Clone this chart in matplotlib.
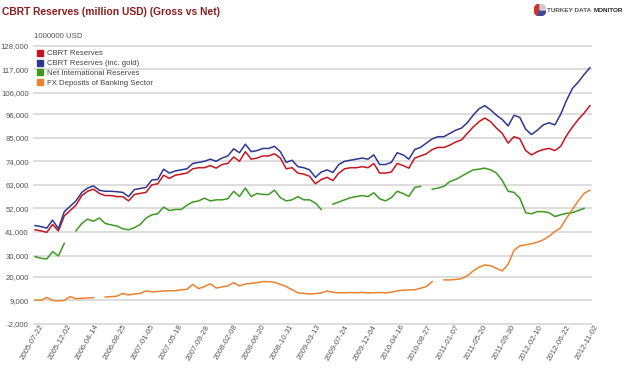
import matplotlib.pyplot as plt
import matplotlib.transforms as mtransforms
from matplotlib.lines import Line2D
from matplotlib.patches import Wedge
import numpy as np
import pandas as pd

plt.rcParams["font.family"] = ["Liberation Sans", "DejaVu Sans"]

# weekly data thinned to one value every 4 weeks, 2005-07-22 .. 2012-11-02
dates = pd.date_range("2005-07-22", periods=96, freq="28D")

cbrt = [42000, 41500, 40800, 44500, 41500, 48500, 51000, 53500, 58000, 60000,
        61000, 59000, 58000, 58000, 57500, 57500, 55500, 58500, 59000, 59500,
        63000, 63500, 67500, 66000, 67500, 68000, 68500, 70500, 71000, 71000,
        72000, 70800, 72500, 73000, 76000, 74000, 78500, 75000, 75500, 76500,
        76500, 77500, 75500, 70500, 71000, 68500, 68000, 67000, 63500, 65500,
        66500, 65000, 68500, 70500, 71000, 71000, 71500, 71000, 73000, 68500,
        68500, 69000, 73000, 72000, 70800, 75500, 76500, 77500, 79500, 80500,
        80500, 81500, 83000, 84000, 87000, 90000, 92500, 94200, 92500, 89500,
        87000, 82500, 85500, 84500, 79000, 77000, 78500, 79500, 80000, 79000,
        81000, 86000, 90000, 93500, 96500, 100000]

cbrt_gold = [44000, 43500, 42800, 46500, 42500, 50500, 53000, 55500, 59500, 61500,
             62500, 60500, 60000, 60000, 59800, 59500, 57500, 60800, 61300, 61800,
             65300, 65500, 70300, 68500, 69500, 70000, 70500, 73000, 73500, 74000,
             75000, 74000, 75500, 76500, 79800, 78000, 82000, 78500, 79000, 80000,
             80000, 81000, 78500, 73500, 74500, 71500, 71000, 70000, 66500, 69000,
             70000, 68800, 72500, 74000, 74500, 75000, 75500, 75000, 77000, 72500,
             72500, 73500, 78000, 77000, 75000, 79500, 80500, 82500, 84500, 85500,
             85500, 87000, 88500, 89500, 92000, 95500, 98500, 100000, 98000, 95500,
             93500, 90500, 95500, 94500, 89000, 86500, 88500, 91000, 92000, 91000,
             96000, 102500, 108000, 111000, 114500, 117700]

net_reserves = [29500, 28700, 28400, 31800, 29800, 35700, np.nan, 41500, 45000, 47000,
                46000, 47500, 45000, 44300, 43800, 42500, 42000, 43000, 44500, 47500,
                49000, 49500, 52600, 51000, 51500, 51500, 53500, 55000, 55500, 56800,
                55500, 56000, 56000, 56500, 60000, 57600, 61500, 57500, 59000, 58500,
                58500, 60500, 57000, 55500, 56000, 57500, 56000, 56000, 54500, 51500,
                np.nan, 54000, 55000, 56000, 57000, 57500, 58000, 57500, 59300, 56500,
                55500, 57000, 60000, 59000, 57600, 61800, 62300, np.nan, 61000, 61500,
                62300, 64500, 65500, 67000, 68500, 70000, 70300, 70800, 70000, 68500,
                65000, 60000, 59500, 56800, 50000, 49500, 50500, 50500, 50000, 48200,
                49000, 49700, 50000, 51000, 52000, np.nan]

fx_deposits = [9200, 9100, 10400, 9000, 8800, 9000, 10800, 9800, 10000, 10200,
               10300, np.nan, 10600, 10800, 11000, 12300, 11600, 12000, 12300, 13500,
               13000, 13200, 13400, 13600, 13500, 14000, 14200, 16500, 14500, 15500,
               16800, 14800, 15300, 15800, 17300, 15800, 16700, 17000, 17300, 17800,
               17800, 17500, 16500, 15500, 14000, 12600, 12300, 12000, 12200, 12500,
               13400, 12800, 12600, 12600, 12700, 12600, 12800, 12500, 12600, 12700,
               12600, 12800, 13500, 13800, 13900, 14000, 14700, 15500, 17800, np.nan,
               18600, 18600, 18800, 19200, 20500, 22800, 24500, 25600, 25200, 24000,
               22800, 25900, 32500, 34500, 35000, 35500, 36200, 37300, 39000, 41200,
               43000, 47500, 51500, 55500, 59000, 60500]

series_names = ["CBRT Reserves", "CBRT Reserves (inc. gold)",
                "Net International Reserves", "FX Deposits of Banking Sector"]
series_colors = ["#c8141e", "#2e3790", "#3c9a22", "#ea8230"]

y_ticks = [-2000, 9000, 20000, 30000, 41000, 52000, 63000, 74000,
           85000, 96000, 106000, 117000, 128000]
x_tick_labels = ["2005-07-22", "2005-12-02", "2006-04-14", "2006-08-25", "2007-01-05",
                 "2007-05-18", "2007-09-28", "2008-02-08", "2008-06-20", "2008-10-31",
                 "2009-03-13", "2009-07-24", "2009-12-04", "2010-04-16", "2010-08-27",
                 "2011-01-07", "2011-05-20", "2011-09-30", "2012-02-10", "2012-06-22",
                 "2012-11-02"]

W, H = 631, 369
fig = plt.figure(figsize=(W / 100, H / 100), dpi=100)
ax = fig.add_axes([33 / W, 1 - 325.3 / H, 559 / W, 280.9 / H])

for vals, name, col in zip([cbrt, cbrt_gold, net_reserves, fx_deposits],
                           series_names, series_colors):
    ax.plot(dates, vals, color=col, lw=1.1, label=name)

ax.set_ylim(-2600, 128600)
ax.set_xlim(dates[0] - pd.Timedelta(days=10), dates[-1] + pd.Timedelta(days=10))

ax.set_yticks(y_ticks)
ax.set_yticklabels([f"{v:,}" for v in y_ticks])
ax.set_xticks(pd.to_datetime(x_tick_labels))
ax.set_xticklabels(x_tick_labels)

ax.grid(axis="y", color="#dadada", lw=1.3)
ax.set_axisbelow(True)
for s in ax.spines.values():
    s.set_visible(False)
ax.tick_params(length=0, labelsize=5.6, labelcolor="#555555")
ax.tick_params(axis="y", pad=3)
ax.tick_params(axis="x", pad=0)

shift = mtransforms.ScaledTranslation(0.07, 0.0, fig.dpi_scale_trans)
for lab in ax.get_xticklabels():
    lab.set_rotation(60)
    lab.set_ha("right")
    lab.set_va("center")
    lab.set_rotation_mode("anchor")
    lab.set_transform(lab.get_transform() + shift)

handles = [Line2D([], [], marker="s", ls="none", color=c, markersize=4.6) for c in series_colors]
ax.legend(handles, series_names, loc="upper left", bbox_to_anchor=(37 / W, 1 - 50 / H),
          bbox_transform=fig.transFigure, frameon=False, fontsize=5.6,
          handlelength=0.7, handletextpad=0.6, labelspacing=0.3, borderpad=0,
          borderaxespad=0, labelcolor="#444444")

fig.text(34 / W, 1 - 37 / H, "1000000 USD", fontsize=5.6, color="#555555", va="center")
fig.text(2 / W, 1 - 12 / H, "CBRT Reserves (million USD) (Gross vs Net)",
         fontsize=7.4, fontweight="bold", color="#8b1c1c", va="center")

# logo
lax = fig.add_axes([534 / W, 1 - 16 / H, 12 / W, 12 / H])
lax.set_xlim(0, 1)
lax.set_ylim(0, 1)
lax.axis("off")
lax.add_patch(Wedge((0.5, 0.5), 0.5, 90, 250, color="#d2322d"))
lax.add_patch(Wedge((0.5, 0.5), 0.5, 250, 360, color="#3a4a9c"))
lax.add_patch(Wedge((0.5, 0.5), 0.5, 0, 90, color="#c9ccd6"))
t1 = fig.text(547 / W, 1 - 10 / H, "TURKEY DATA", fontsize=4.6, fontweight="bold",
              color="#555555", va="center")
fig.canvas.draw()
bb = t1.get_window_extent()
fig.text(bb.x1 / W + 2.5 / W, 1 - 10 / H, "MONITOR", fontsize=4.6, fontweight="bold",
         color="#222222", va="center")

fig.savefig("out.png", dpi=100)
